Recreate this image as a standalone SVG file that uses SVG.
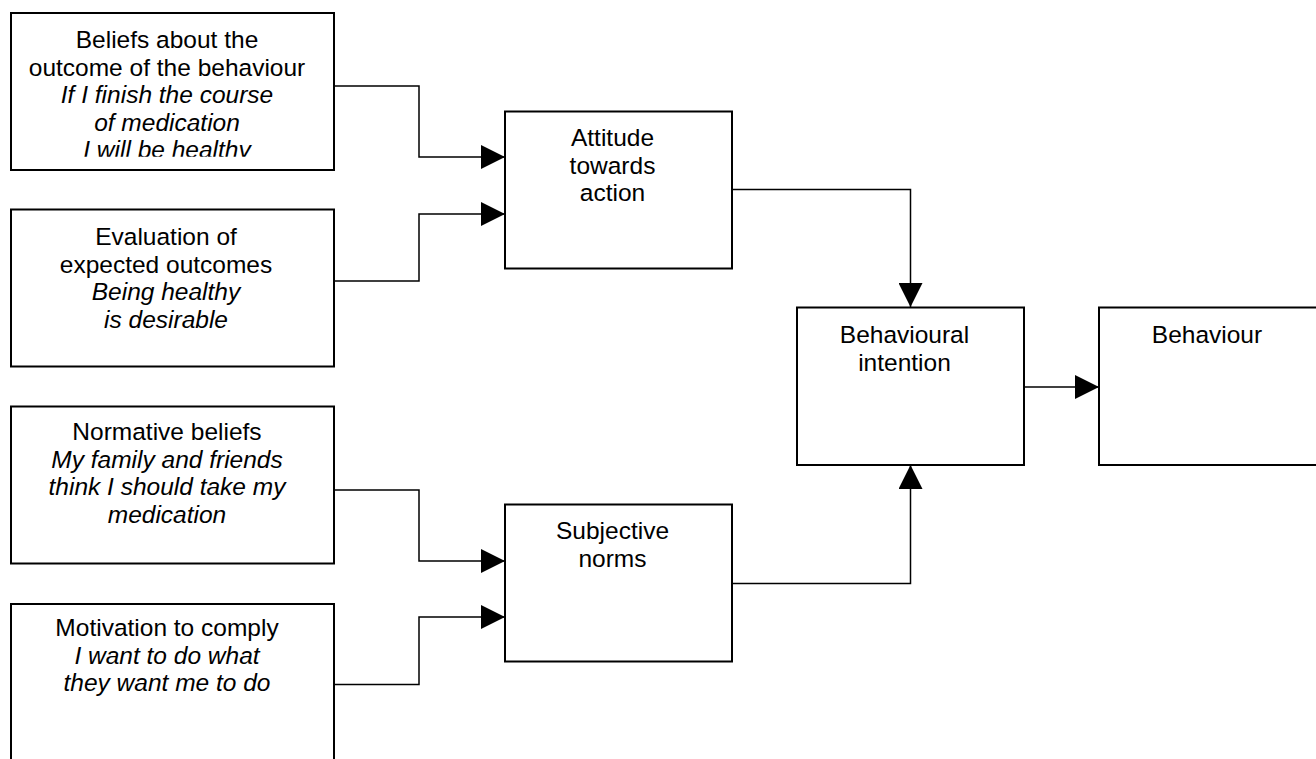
<svg xmlns="http://www.w3.org/2000/svg" width="1316" height="759" viewBox="0 0 1316 759">
  <style>
    .box { fill: #ffffff; stroke: #000000; stroke-width: 2; }
    .t { font-family: "Liberation Sans", Arial, sans-serif; font-size: 24.5px; fill: #000000; text-anchor: middle; }
    .i { font-style: italic; }
    .conn { fill: none; stroke: #000000; stroke-width: 1.5; }
  </style>
  <defs>
    <marker id="arrow" markerUnits="userSpaceOnUse" markerWidth="24" markerHeight="24" refX="23" refY="11.5" orient="auto" viewBox="0 0 23 23">
      <path d="M0,0 L23,11.5 L0,23 z" fill="#000000"/>
    </marker>
    <clipPath id="clip1">
      <rect x="12" y="14" width="321" height="142.7"/>
    </clipPath>
  </defs>
  <rect width="1316" height="759" fill="#ffffff"/>

  <g id="connectors">
    <path class="conn" d="M334 86 H419 V157 H505" marker-end="url(#arrow)"/>
    <path class="conn" d="M334 281 H419 V214 H505" marker-end="url(#arrow)"/>
    <path class="conn" d="M334 490 H419 V561 H505" marker-end="url(#arrow)"/>
    <path class="conn" d="M334 684.5 H419 V617 H505" marker-end="url(#arrow)"/>
    <path class="conn" d="M732 189.5 H910.5 V307" marker-end="url(#arrow)"/>
    <path class="conn" d="M732 583.5 H910.5 V465" marker-end="url(#arrow)"/>
    <path class="conn" d="M1024 387 H1099" marker-end="url(#arrow)"/>
  </g>

  <g id="beliefs">
    <rect class="box" x="11" y="13" width="323" height="157"/>
    <g clip-path="url(#clip1)">
      <text class="t" x="167" y="48">Beliefs about the</text>
      <text class="t" x="167" y="75.6">outcome of the behaviour</text>
      <text class="t i" x="167" y="103.2">If I finish the course</text>
      <text class="t i" x="167" y="130.8">of medication</text>
      <text class="t i" x="167" y="158.4">I will be healthy</text>
    </g>
  </g>

  <g id="evaluation">
    <rect class="box" x="11" y="209.5" width="323" height="157"/>
    <text class="t" x="166" y="245">Evaluation of</text>
    <text class="t" x="166" y="272.6">expected outcomes</text>
    <text class="t i" x="166" y="300.2">Being healthy</text>
    <text class="t i" x="166" y="327.8">is desirable</text>
  </g>

  <g id="normative">
    <rect class="box" x="11" y="406.5" width="323" height="157"/>
    <text class="t" x="167" y="440">Normative beliefs</text>
    <text class="t i" x="167" y="467.6">My family and friends</text>
    <text class="t i" x="167" y="495.2">think I should take my</text>
    <text class="t i" x="167" y="522.8">medication</text>
  </g>

  <g id="motivation">
    <rect class="box" x="11" y="604" width="323" height="200"/>
    <text class="t" x="167" y="636">Motivation to comply</text>
    <text class="t i" x="167" y="663.6">I want to do what</text>
    <text class="t i" x="167" y="691.2">they want me to do</text>
  </g>

  <g id="attitude">
    <rect class="box" x="505" y="111.5" width="227" height="157"/>
    <text class="t" x="612.5" y="146">Attitude</text>
    <text class="t" x="612.5" y="173.6">towards</text>
    <text class="t" x="612.5" y="201.2">action</text>
  </g>

  <g id="subjective">
    <rect class="box" x="505" y="504.5" width="227" height="157"/>
    <text class="t" x="612.5" y="538.5">Subjective</text>
    <text class="t" x="612.5" y="566.5">norms</text>
  </g>

  <g id="intention">
    <rect class="box" x="797" y="307.5" width="227" height="157.5"/>
    <text class="t" x="904.5" y="343">Behavioural</text>
    <text class="t" x="904.5" y="370.6">intention</text>
  </g>

  <g id="behaviour">
    <rect class="box" x="1099" y="307.5" width="300" height="157.5"/>
    <text class="t" x="1207" y="343">Behaviour</text>
  </g>
</svg>
